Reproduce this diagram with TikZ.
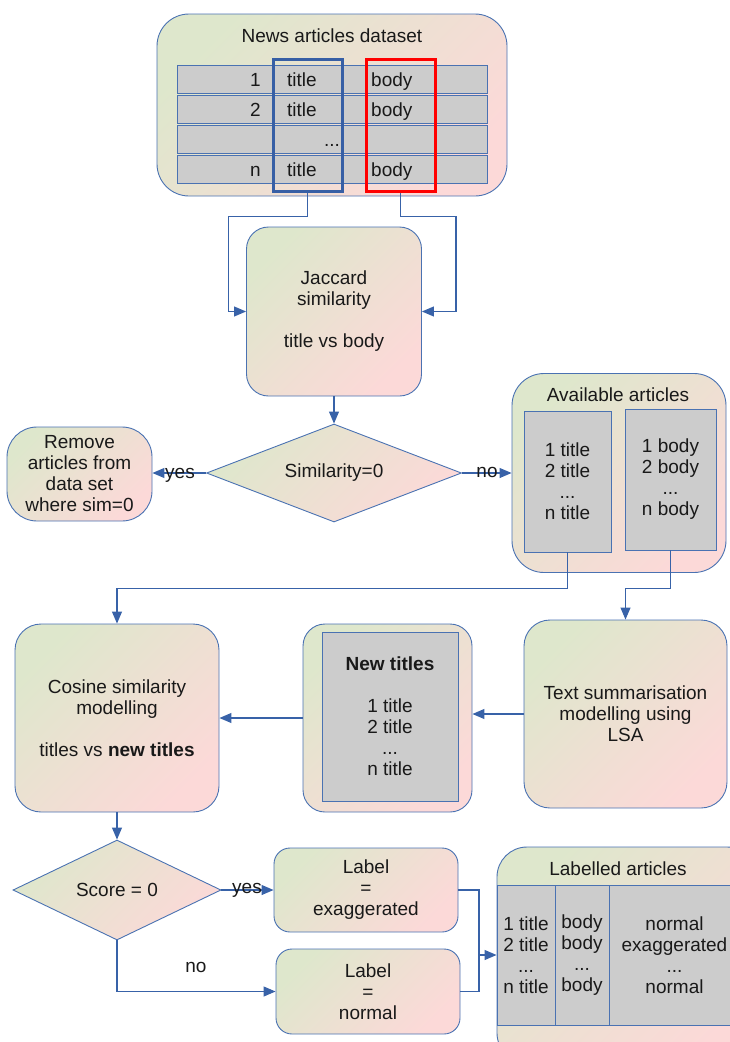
\documentclass[tikz,border=0pt]{standalone}
\usepackage{fontspec}
\setmainfont{Liberation Sans}
\usetikzlibrary{shapes.geometric,arrows.meta,calc}
\definecolor{gA}{RGB}{222,231,204}
\definecolor{gB}{RGB}{252,217,216}
\definecolor{bord}{RGB}{74,114,178}
\definecolor{connc}{RGB}{56,98,168}
\definecolor{cell}{RGB}{204,204,204}
\definecolor{blueframe}{RGB}{55,95,165}
\begin{document}
\begin{tikzpicture}[x=1pt,y=-1pt,
  every node/.style={font=\fontsize{19}{21}\selectfont, text=black!90},
  grad/.style={draw=bord, line width=0.9pt, top color=gA, bottom color=gB, shading angle=45},
  card/.style={grad, rounded corners=#1, inner sep=0pt, align=center},
  card/.default=24pt,
  cellbox/.style={draw=bord, line width=0.9pt, fill=cell, inner sep=0pt},
  decision/.style={grad, diamond, inner sep=0pt, align=center},
  lbl/.style={inner sep=0pt, text height=14pt, text depth=4pt},
  conn/.style={draw=connc, line width=1.1pt},
  arr/.style={conn, -{Triangle[length=12pt,width=10pt]}},
  frame/.style={draw=#1, line width=3pt, minimum width=69pt, minimum height=132pt, inner sep=0pt},
]
\useasboundingbox (0,0) rectangle (730,1042);
\clip (0,0) rectangle (730,1042);

% ---- dataset
\node[card=32pt, minimum width=350pt, minimum height=182pt] (ds) at (332,105) {};
\node (dst) at (332,36) {News articles dataset};
\node[cellbox, minimum width=310pt, minimum height=28pt] (r1) at (332,79) {};
\node[cellbox, minimum width=310pt, minimum height=28pt] (r2) at (332,109) {};
\node[cellbox, minimum width=310pt, minimum height=28pt] (r3) at (332,139) {};
\node[cellbox, minimum width=310pt, minimum height=28pt] (r4) at (332,169) {};
\node[lbl, anchor=east] (n1) at (261,81) {1};
\node[lbl, anchor=east] (n2) at (261,111) {2};
\node[lbl, anchor=east] (n4) at (261,171) {n};
\node[lbl, anchor=west] (t1) at (287,81) {title};
\node[lbl, anchor=west] (t2) at (287,111) {title};
\node[lbl, anchor=west] (t4) at (287,171) {title};
\node[lbl, anchor=west] (b1) at (371,81) {body};
\node[lbl, anchor=west] (b2) at (371,111) {body};
\node[lbl, anchor=west] (b4) at (371,171) {body};
\node[lbl] (d3) at (332,141) {...};
\node[frame=blueframe] (bt) at (307.5,125) {};
\node[frame=red] (rr) at (400.5,125) {};

% ---- Jaccard
\node[card=22pt, minimum width=175pt, minimum height=169pt] (J) at (334,311.5) {Jaccard\\similarity\\[21pt]title vs body};
\draw[arr] (bt.south) -- ++(0,24) -| ($(J.west)+(-18,0)$) -- (J.west);
\draw[arr] (rr.south) -- ++(0,24) -| ($(J.east)+(34,0)$) -- (J.east);

% ---- Similarity decision
\node[decision, aspect=2.6, minimum width=255pt, minimum height=98pt] (D) at (334,473) {Similarity=0};
\draw[arr] (J.south) -- (D.north);
\node[card=30pt, minimum width=145pt, minimum height=94pt] (Rm) at (79.5,474) {Remove\\articles from\\data set\\where sim=0};
\node[card=32pt, minimum width=214pt, minimum height=199pt] (Av) at (619,473) {};
\node (avt) at (618,395) {Available articles};
\node[cellbox, minimum width=87pt, minimum height=141pt, align=center] (Avt) at (567.5,481.5) {1 title\\2 title\\...\\n title};
\node[cellbox, minimum width=91pt, minimum height=141pt, align=center] (Avb) at (670.5,479.5) {1 body\\2 body\\...\\n body};
\draw[arr] (D.west) -- (D.west -| Rm.east);
\draw[arr] (D.east) -- (Av.west);
\node (yes1) at (180,475) {yes};
\node (no1) at (487,472) {no};

% ---- middle row
\node[card=26pt, minimum width=204pt, minimum height=188pt] (Cos) at (117,718) {Cosine similarity\\modelling\\[21pt]titles vs \textbf{new titles}};
\node[card=22pt, minimum width=169pt, minimum height=188pt] (Nt) at (387.5,718) {};
\node[cellbox, minimum width=136pt, minimum height=169pt, align=center] (Ntg) at (390,716.5) {\textbf{New titles}\\[21pt]1 title\\2 title\\...\\n title};
\node[card=26pt, minimum width=203pt, minimum height=188pt] (Ts) at (625.5,714) {Text summarisation\\modelling using\\LSA};
\draw[arr] (Avt.south) -- ++(0,36) -| (Cos.north);
\draw[arr] (Avb.south) -- ++(0,38) -| (Ts.north);
\draw[arr] (Ts.west) -- (Ts.west -| Nt.east);
\draw[arr] (Nt.west) -- (Nt.west -| Cos.east);

% ---- Score decision
\node[decision, aspect=2.08, minimum width=208pt, minimum height=100pt] (Sc) at (117,890) {Score = 0};
\draw[arr] (Cos.south) -- (Sc.north);
\node[card=16pt, minimum width=184pt, minimum height=84pt] (Le) at (366,890) {Label\\=\\exaggerated};
\node[card=16pt, minimum width=184pt, minimum height=85pt] (Ln) at (368,991.5) {Label\\=\\normal};
\draw[arr] (Sc.east) -- (Le.west);
\draw[arr] (Sc.south) |- (Ln.west);
\node (yes2) at (247,890) {yes};
\node (no2) at (196,967) {no};

% ---- Labelled articles
\node[card=30pt, minimum width=260pt, minimum height=216pt] (La) at (627,955) {};
\node (lat) at (618,869) {Labelled articles};
\node[cellbox, minimum width=58pt, minimum height=140pt, align=center] (Lc1) at (526,955) {1 title\\2 title\\...\\n title};
\node[cellbox, minimum width=54pt, minimum height=140pt, align=center] (Lc2) at (582,955) {body\\body\\...\\body};
\node[cellbox, minimum width=131pt, minimum height=140pt, align=center] (Lc3) at (674.5,955) {normal\\exaggerated\\...\\normal};
\coordinate (jn) at (479,955);
\draw[conn] (Le.east) -| (jn);
\draw[conn] (Ln.east) -| (jn);
\draw[arr] (jn) -- (La.west);
\end{tikzpicture}
\end{document}
